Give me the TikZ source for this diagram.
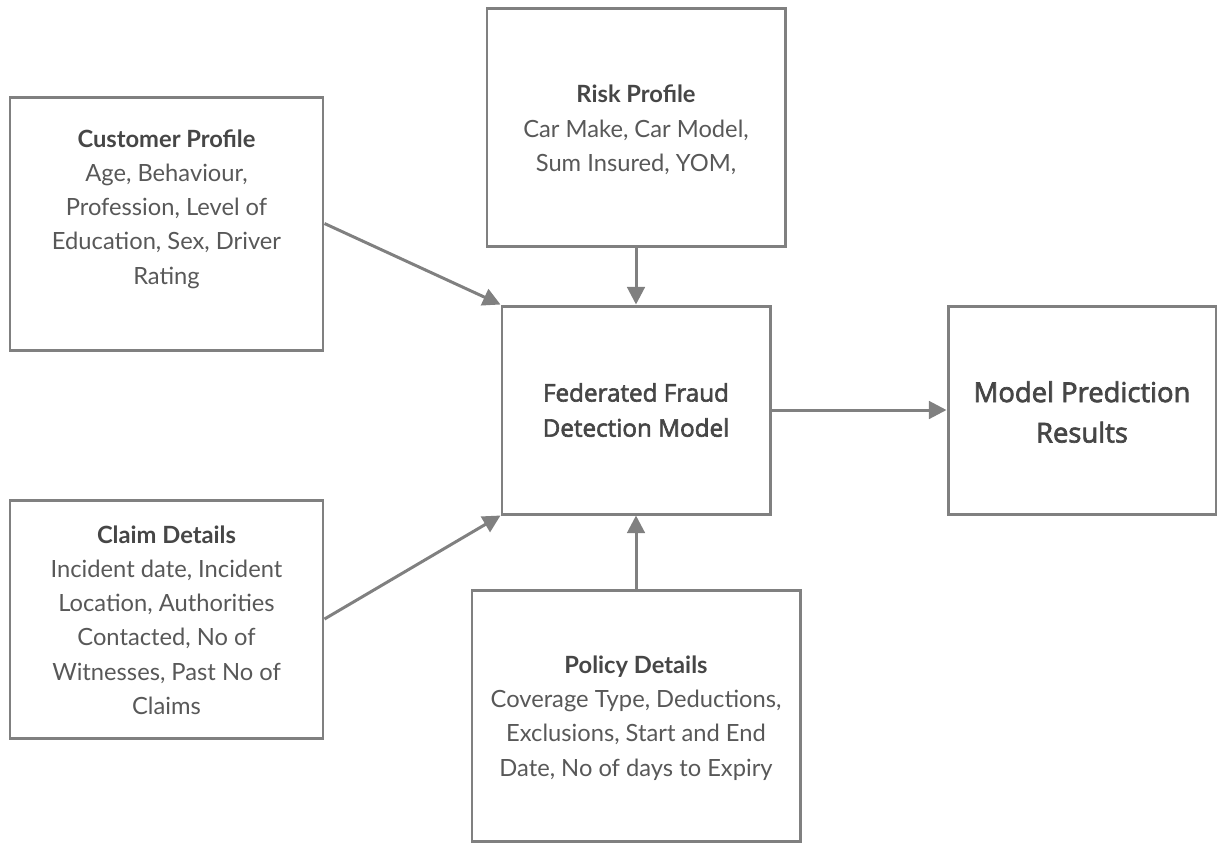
\documentclass[tikz,border=0pt]{standalone}
\usepackage{fontspec}
\setmainfont{Lato}
\newfontfamily\opensans{Open Sans}[FakeBold=2.5]
\usetikzlibrary{arrows.meta}
\definecolor{linegray}{RGB}{128,128,128}
\definecolor{textgray}{RGB}{88,88,88}
\definecolor{headgray}{RGB}{70,70,70}

\begin{document}
\begin{tikzpicture}[x=0.02cm,y=-0.02cm,
  box/.style={draw=linegray,line width=1.7pt,inner sep=0pt},
  txt/.style={align=center,text=textgray,font=\fontsize{13.5}{19.5}\selectfont},
  conn/.style={draw=linegray,line width=1.7pt,-{Triangle[length=10pt,width=10pt]}}]
 \useasboundingbox (0,0) rectangle (1217,843); %page
 \node[box,minimum width=313*0.02cm,minimum height=253*0.02cm] (cust) at (166.5,223.5) {}; %Customer
 \node[box,minimum width=298*0.02cm,minimum height=238*0.02cm] (risk) at (636,127) {}; %Risk
 \node[box,minimum width=268*0.02cm,minimum height=208*0.02cm] (fed) at (636,410) {}; %Federated
 \node[box,minimum width=268*0.02cm,minimum height=208*0.02cm] (pred) at (1082,410) {}; %Prediction
 \node[box,minimum width=313*0.02cm,minimum height=238*0.02cm] (claim) at (166.5,619) {}; %Claim
 \node[box,minimum width=328*0.02cm,minimum height=251*0.02cm] (pol) at (636,715.5) {}; %Policy
 \node[txt] (custtxt) at (166.5,209) {{\bfseries\color{headgray}Customer Profile}\\Age, Behaviour,\\Profession, Level of\\Education, Sex, Driver\\Rating};
 \node[txt] (risktxt) at (636,130) {{\bfseries\color{headgray}Risk Profile}\\Car Make, Car Model,\\Sum Insured, YOM,};
 \node[txt,text=headgray,font=\opensans\fontsize{13.8}{20}\selectfont] (fedtxt) at (fed) {Federated Fraud\\Detection Model};
 \node[txt,text=headgray,font=\opensans\fontsize{15.6}{23}\selectfont] (predtxt) at (1082,412) {Model Prediction\\Results};
 \node[txt] (claimtxt) at (166.5,620) {{\bfseries\color{headgray}Claim Details}\\Incident date, Incident\\Location, Authorities\\Contacted, No of\\Witnesses, Past No of\\Claims};
 \node[txt] (poltxt) at (636,718) {{\bfseries\color{headgray}Policy Details}\\Coverage Type, Deductions,\\Exclusions, Start and End\\Date, No of days to Expiry};
 \draw[conn] (cust.east)--(fed.north west); %in 1
 \draw[conn] (claim.east)--(fed.south west); %in 2
 \draw[conn] (risk.south)--(fed.north); %in 3
 \draw[conn] (pol.north)--(fed.south); %in 4
 \draw[conn] (fed.east)--(pred.west); %out
\end{tikzpicture}
\end{document}
